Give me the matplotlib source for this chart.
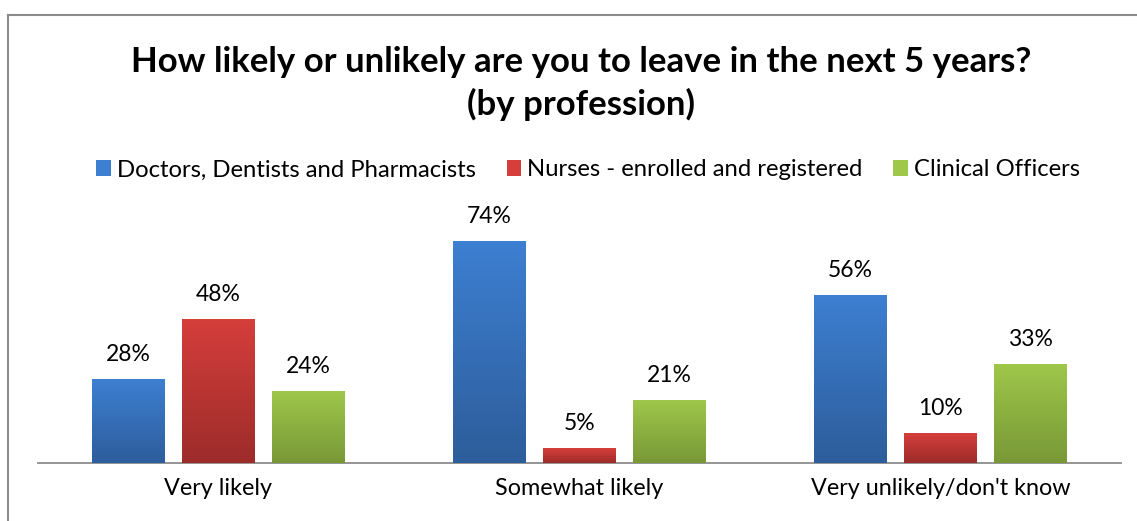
import numpy as np
import matplotlib
matplotlib.use("Agg")
import matplotlib.pyplot as plt
from matplotlib.patches import Patch
from matplotlib.lines import Line2D

plt.rcParams['font.family'] = ['Lato', 'DejaVu Sans']

# survey answers by profession
categories = ['Very likely', 'Somewhat likely', "Very unlikely/don't know"]
series = ['Doctors, Dentists and Pharmacists', 'Nurses - enrolled and registered', 'Clinical Officers']
doctors = [28, 74, 56]
nurses = [48, 5, 10]
officers = [24, 21, 33]

# (top colour, bottom colour) for the gradient fill
colors = [('#3d7fd1', '#2d5d9b'), ('#d53e3b', '#9c2c2a'), ('#9fc74a', '#789836')]

fig = plt.figure(figsize=(11.37, 5.21), dpi=100)
W, H = 1137, 521
ax = fig.add_axes([38 / W, (H - 463) / H, (1121 - 38) / W, (463 - 223) / H])

x = np.arange(len(categories))
width = 0.202
offset = 0.249
grad = np.linspace(0, 1, 256).reshape(-1, 1)

for i, (vals, (c_top, c_bot)) in enumerate(zip([doctors, nurses, officers], colors)):
    cmap = matplotlib.colors.LinearSegmentedColormap.from_list('g%d' % i, [c_bot, c_top])
    pos = x + (i - 1) * offset
    bars = ax.bar(pos, vals, width, color=c_top, zorder=2)
    for b, v in zip(bars, vals):
        x0 = b.get_x()
        ax.imshow(grad, extent=[x0, x0 + width, 0, v], origin='lower', cmap=cmap,
                  aspect='auto', zorder=3)
        ax.text(x0 + width / 2, v + 8.3, '%d%%' % v, ha='center', va='center', fontsize=16.5)

ax.set_xlim(-0.5, 2.5)
ax.set_ylim(0, 80)
ax.set_yticks([])
ax.set_xticks(x)
ax.set_xticklabels(categories, fontsize=16.8)
ax.tick_params(axis='x', length=0, pad=11)
for s in ['top', 'right', 'left']:
    ax.spines[s].set_visible(False)
ax.spines['bottom'].set_color('#8c8c8c')
ax.spines['bottom'].set_linewidth(1.3)
ax.patch.set_alpha(0)

fig.text(581 / W, (H - 62) / H, 'How likely or unlikely are you to leave in the next 5 years?',
         ha='center', va='center', fontsize=25, fontweight='bold')
fig.text(581 / W, (H - 104) / H, '(by profession)', ha='center', va='center',
         fontsize=25, fontweight='bold')

handles = [Patch(facecolor=c[0], edgecolor='none') for c in colors]
fig.legend(handles, series, loc='center', bbox_to_anchor=(588 / W, (H - 170) / H),
           ncol=3, frameon=False, fontsize=17.2, handlelength=0.6, handleheight=0.6,
           handletextpad=0.25, columnspacing=1.3)

# chart frame
fig.add_artist(Line2D([8 / W, 8 / W], [0, (H - 15) / H], color='#8c8c8c', lw=1.5))
fig.add_artist(Line2D([8 / W, 1], [(H - 15) / H, (H - 15) / H], color='#8c8c8c', lw=1.5))

fig.savefig('out.png', dpi=100)
